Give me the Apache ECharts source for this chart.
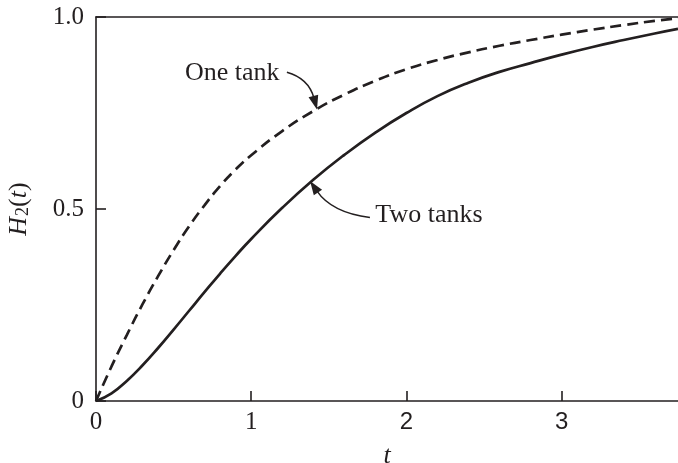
<!DOCTYPE html>
<html>
<head>
<meta charset="utf-8">
<script src="https://cdn.jsdelivr.net/npm/echarts@6/dist/echarts.min.js"></script>
<style>
  html, body { margin: 0; padding: 0; background: #fff; }
  #chart { width: 678px; height: 463px; }
</style>
</head>
<body>
<div id="chart"></div>
<script>
// values
const oneTankT = [0, 0.1, 0.2, 0.3, 0.4, 0.5, 0.6, 0.7, 0.8, 0.9, 1.0, 1.2, 1.4, 1.6, 1.8, 2.0, 2.2, 2.4, 2.6, 2.8, 3.0, 3.2, 3.4, 3.6, 3.75];
const oneTankH = [0, 0.09, 0.173, 0.252, 0.325, 0.393, 0.455, 0.51, 0.56, 0.603, 0.64, 0.703, 0.755, 0.798, 0.834, 0.864, 0.888, 0.908, 0.925, 0.94, 0.954, 0.967, 0.979, 0.99, 0.997];
const twoTankT = [0, 0.1, 0.2, 0.3, 0.4, 0.5, 0.6, 0.7, 0.8, 0.9, 1.0, 1.2, 1.4, 1.6, 1.8, 2.0, 2.2, 2.4, 2.6, 2.8, 3.0, 3.2, 3.4, 3.6, 3.75];
const twoTankH = [0, 0.02, 0.053, 0.093, 0.138, 0.186, 0.235, 0.284, 0.332, 0.378, 0.422, 0.503, 0.576, 0.641, 0.699, 0.75, 0.794, 0.829, 0.857, 0.88, 0.902, 0.922, 0.94, 0.957, 0.969];

const xTicks = [0, 1, 2, 3];
const yTicks = [0, 0.5, 1];
const yTickLabels = ['0', '0.5', '1.0'];

// callouts: text anchor [t, h], arrow start, control, tip (tip sits on the curve)
const oneTankNote = { text: 'One tank', at: [0.573, 0.854], from: [1.23, 0.856], ctrl: [1.37, 0.84], tip: [1.424, 0.759] };
const twoTankNote = { text: 'Two tanks', at: [1.80, 0.484], from: [1.765, 0.478], ctrl: [1.52, 0.49], tip: [1.379, 0.573] };

const ink = '#231f20';
const serif = 'Liberation Serif';

const pairs = (xs, ys) => xs.map((x, i) => [x, ys[i]]);

let chart = echarts.init(document.getElementById('chart'));

const option = {
  animation: false,
  grid: { left: 96, right: 0, top: 17, bottom: 62, containLabel: false, outerBoundsMode: 'none' },
  xAxis: [
    {
      type: 'value',
      min: 0,
      max: 3.75,
      interval: 1,
      name: 't',
      nameLocation: 'middle',
      nameGap: 42,
      nameTextStyle: { fontFamily: serif, fontStyle: 'italic', fontSize: 26, color: ink },
      axisLine: { lineStyle: { color: ink, width: 1.6 } },
      axisTick: { inside: true, length: 10, lineStyle: { color: ink, width: 1.6 }, customValues: xTicks },
      axisLabel: {
        customValues: xTicks,
        margin: 9,
        color: ink,
        fontFamily: serif,
        fontSize: 25,
        formatter: function (v) {
          return v >= 2 ? '{s|' + v + '}' : String(v);
        },
        rich: { s: { fontFamily: 'Liberation Sans', fontSize: 24, color: ink } }
      },
      splitLine: { show: false }
    },
    {
      // top frame line
      type: 'value',
      position: 'top',
      min: 0,
      max: 3.75,
      axisLine: { show: true, onZero: false, lineStyle: { color: ink, width: 1.6 } },
      axisTick: { show: false },
      axisLabel: { show: false },
      splitLine: { show: false }
    }
  ],
  yAxis: {
    type: 'value',
    min: 0,
    max: 1,
    interval: 0.5,
    name: '{i|H}{s|2}{n|(}{i|t}{n|)}',
    nameLocation: 'middle',
    nameRotate: 90,
    nameGap: 64,
    nameTextStyle: {
      rich: {
        i: { fontFamily: serif, fontStyle: 'italic', fontSize: 26, color: ink, lineHeight: 26, verticalAlign: 'top' },
        n: { fontFamily: serif, fontSize: 26, color: ink, lineHeight: 26, verticalAlign: 'top' },
        s: { fontFamily: serif, fontSize: 18, color: ink, lineHeight: 18, padding: [11, 0, 0, 1], verticalAlign: 'bottom' }
      }
    },
    axisLine: { show: true, lineStyle: { color: ink, width: 1.6 } },
    axisTick: { inside: true, length: 10, lineStyle: { color: ink, width: 1.6 } },
    axisLabel: {
      margin: 12,
      color: ink,
      fontFamily: serif,
      fontSize: 25,
      formatter: function (v) {
        const k = yTicks.indexOf(v);
        return k >= 0 ? yTickLabels[k] : '';
      }
    },
    splitLine: { show: false }
  },
  series: [
    {
      name: 'One tank',
      type: 'line',
      data: pairs(oneTankT, oneTankH),
      smooth: 0.5,
      showSymbol: false,
      lineStyle: { color: ink, width: 2.7, type: [11, 6] }
    },
    {
      name: 'Two tanks',
      type: 'line',
      data: pairs(twoTankT, twoTankH),
      smooth: 0.5,
      showSymbol: false,
      lineStyle: { color: ink, width: 2.7 }
    }
  ]
};

chart.setOption(option);

// arrows + texts for the callouts, placed through the axis scales
function buildNote(note) {
  const px = p => chart.convertToPixel({ gridIndex: 0 }, p);
  const a = px(note.at), s = px(note.from), c = px(note.ctrl), t = px(note.tip);
  let dx = t[0] - c[0], dy = t[1] - c[1];
  const len = Math.sqrt(dx * dx + dy * dy);
  dx /= len; dy /= len;
  const L = 14, W = 5;
  const base = [t[0] - dx * L, t[1] - dy * L];
  return [
    {
      type: 'text',
      x: a[0],
      y: a[1],
      style: { text: note.text, fill: ink, font: '26px "Liberation Serif"', verticalAlign: 'middle', align: 'left' }
    },
    {
      type: 'bezierCurve',
      shape: { x1: s[0], y1: s[1], cpx1: c[0], cpy1: c[1], x2: base[0] + dx * 2, y2: base[1] + dy * 2 },
      style: { stroke: ink, lineWidth: 1.5, fill: null }
    },
    {
      type: 'polygon',
      shape: { points: [t, [base[0] - dy * W, base[1] + dx * W], [base[0] + dy * W, base[1] - dx * W]] },
      style: { fill: ink }
    }
  ];
}

chart.setOption({ graphic: buildNote(oneTankNote).concat(buildNote(twoTankNote)) });

window.addEventListener('resize', () => chart.resize());
</script>
</body>
</html>
